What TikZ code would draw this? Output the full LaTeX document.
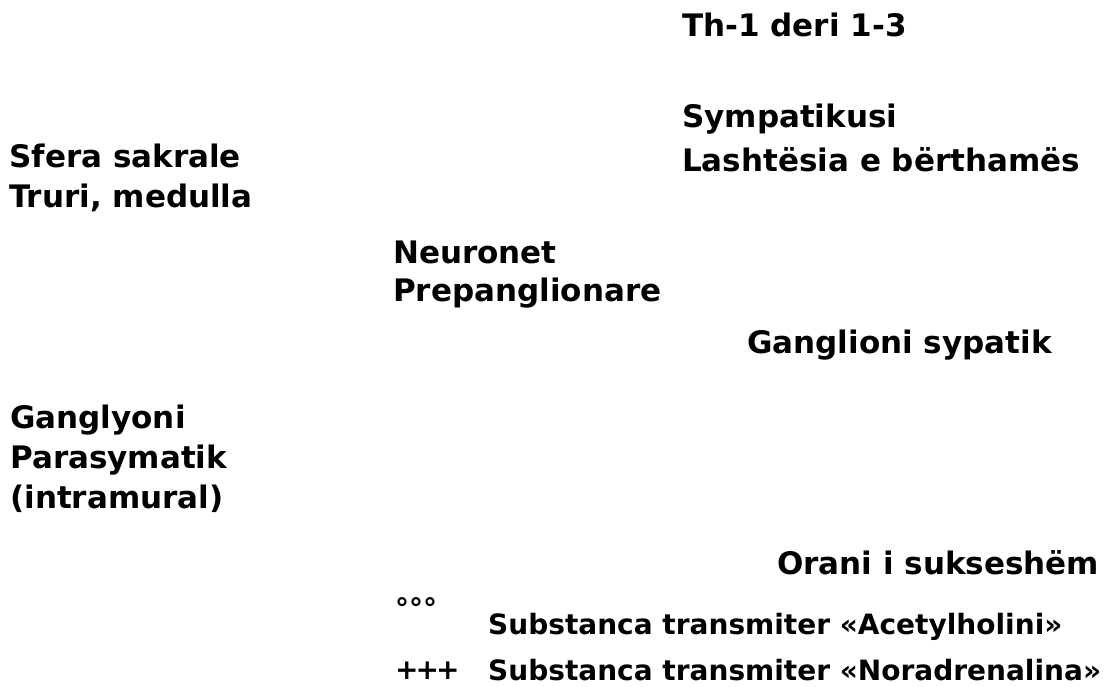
\documentclass[tikz,border=0pt]{standalone}
\usepackage{fontspec}
\setmainfont{DejaVu Sans}
\usepackage{tikz}

\begin{document}
\begin{tikzpicture}[x=1pt, y=-1pt,
    lbl/.style={anchor=base west, inner sep=0pt, font=\fontsize{31}{37}\selectfont\bfseries},
    key/.style={lbl, font=\fontsize{28}{34}\selectfont\bfseries}]
    \useasboundingbox (0, 0) rectangle (1114, 687);
    \node [lbl] (th) at (682, 37) {Th-1 deri 1-3};
    \node [lbl] (symp) at (682, 128) {Sympatikusi};
    \node [lbl] (lasht) at (682, 172) {Lashtësia e bërthamës};
    \node [lbl] (sfera) at (9, 168) {Sfera sakrale};
    \node [lbl] (truri) at (9, 208) {Truri, medulla};
    \node [lbl] (neur) at (393, 263) {Neuronet};
    \node [lbl] (prep) at (393, 301) {Prepanglionare};
    \node [lbl] (gsymp) at (747, 353) {Ganglioni sypatik};
    \node [lbl] (gpara1) at (10, 428) {Ganglyoni};
    \node [lbl] (gpara2) at (10, 468) {Parasymatik};
    \node [lbl] (gpara3) at (10, 508) {(intramural)};
    \node [lbl] (organ) at (777, 574) {Orani i sukseshëm};
    \node [key] (circ) at (395, 618) {°°°};
    \node [key] (acet) at (488, 634) {Substanca transmiter «Acetylholini»};
    \node [key] (plus) at (395, 679) {+\kern-3pt+\kern-3pt+};
    \node [key] (norad) at (488, 680) {Substanca transmiter «Noradrenalina»};
\end{tikzpicture}
\end{document}
